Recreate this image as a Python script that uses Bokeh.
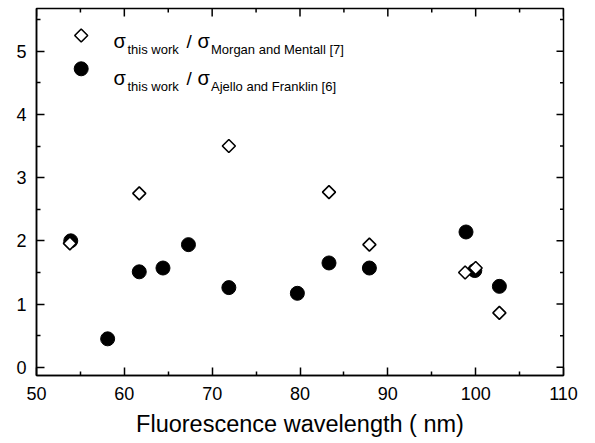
import numpy as np
from bokeh.plotting import figure
from bokeh.models import FixedTicker, Range1d, Label
from bokeh.embed import file_html
from bokeh.resources import INLINE

# ---- data ----
wl_morgan = [53.8, 61.7, 71.9, 83.3, 87.9, 98.8, 100.0, 102.7]
ratio_morgan = [1.96, 2.75, 3.50, 2.77, 1.94, 1.50, 1.57, 0.86]
wl_ajello = [53.9, 58.1, 61.7, 64.4, 67.3, 71.9, 79.7, 83.3, 87.9, 98.9, 99.9, 102.7]
ratio_ajello = [2.00, 0.45, 1.51, 1.57, 1.94, 1.26, 1.17, 1.65, 1.57, 2.14, 1.53, 1.28]

x_ticks = [50, 60, 70, 80, 90, 100, 110]
x_minor = [55, 65, 75, 85, 95, 105]
y_ticks = [0, 1, 2, 3, 4, 5]
y_minor = [0.5, 1.5, 2.5, 3.5, 4.5, 5.5]

x_title = "Fluorescence wavelength ( nm)"
legend_refs = ["Morgan and Mentall [7]", "Ajello and Franklin [6]"]
FONT = "Liberation Sans"

X0, X1 = 50, 110
Y0, Y1 = -0.13, 5.675
W, H = 595, 443
ML, MR, MT, MB = 36, 32, 8, 68
FW, FH = W - ML - MR, H - MT - MB   # frame size in px

p = figure(width=W, height=H, x_range=Range1d(X0, X1), y_range=Range1d(Y0, Y1),
           output_backend="svg", toolbar_location=None,
           min_border_left=ML, min_border_right=MR, min_border_top=MT, min_border_bottom=MB)
p.grid.visible = False
p.outline_line_color = "black"
p.outline_line_width = 1.5
p.background_fill_color = "white"
p.border_fill_color = "white"

for ax in (p.xaxis[0], p.yaxis[0]):
    ax.axis_line_color = "black"
    ax.axis_line_width = 1.5
    ax.major_tick_line_color = "black"
    ax.major_tick_line_width = 1.5
    ax.minor_tick_line_color = "black"
    ax.minor_tick_line_width = 1.5
    ax.major_tick_in = 8
    ax.major_tick_out = 0
    ax.minor_tick_in = 4
    ax.minor_tick_out = 0
    ax.major_label_text_font = FONT
    ax.major_label_text_color = "black"
    ax.major_label_text_font_size = "18px"
p.xaxis.major_label_standoff = 11
p.yaxis.major_label_standoff = 10

p.xaxis.axis_label = x_title
p.xaxis.axis_label_text_font = FONT
p.xaxis.axis_label_text_font_size = "23.5px"
p.xaxis.axis_label_text_font_style = "normal"
p.xaxis.axis_label_text_color = "black"
p.xaxis.axis_label_standoff = 8

p.xaxis.ticker = FixedTicker(ticks=x_ticks, minor_ticks=x_minor)
p.yaxis.ticker = FixedTicker(ticks=y_ticks, minor_ticks=y_minor)

# ticks on the top and right frame edges (inward)
p.ray(x=x_ticks, y=[Y1] * len(x_ticks), length=8, length_units="screen",
      angle=-np.pi / 2, line_color="black", line_width=1.5)
p.ray(x=x_minor, y=[Y1] * len(x_minor), length=4, length_units="screen",
      angle=-np.pi / 2, line_color="black", line_width=1.5)
p.ray(x=[X1] * len(y_ticks), y=y_ticks, length=7, length_units="screen",
      angle=np.pi, line_color="black", line_width=1.5)
p.ray(x=[X1] * len(y_minor), y=y_minor, length=3.5, length_units="screen",
      angle=np.pi, line_color="black", line_width=1.5)

circ_style = dict(marker="circle", size=14, fill_color="black", line_color="black", line_width=1)
diam_style = dict(marker="square", size=9.2, angle=np.pi / 4, fill_color="white",
                  line_color="black", line_width=1.6)

p.scatter(wl_ajello, ratio_ajello, **circ_style)
p.scatter(wl_morgan, ratio_morgan, **diam_style)

# legend keys, placed by fractions of the frame
def fx(px):
    return X0 + (X1 - X0) * px / FW

def fy(py_from_top):
    return Y1 - (Y1 - Y0) * py_from_top / FH

key_x = fx(44.7)
p.scatter([key_x], [fy(27)], **diam_style)
p.scatter([key_x], [fy(60.3)], **circ_style)

def lab(x, y, text, size, align="left"):
    p.add_layout(Label(x=x, y=y, x_units="screen", y_units="screen", text=text,
                       text_font=FONT, text_font_size=size, text_color="black",
                       text_baseline="alphabetic", text_align=align))

for base_from_top, ref in zip([32, 69], legend_refs):
    base = FH - base_from_top
    lab(77, base, "σ", "20px")
    lab(91, base - 8.5, "this work", "13px")
    lab(150, base - 1, "/", "19px")
    lab(161, base, "σ", "20px")
    lab(174.5, base - 9, ref, "13px")

open("out.html", "w").write(file_html(p, INLINE))
